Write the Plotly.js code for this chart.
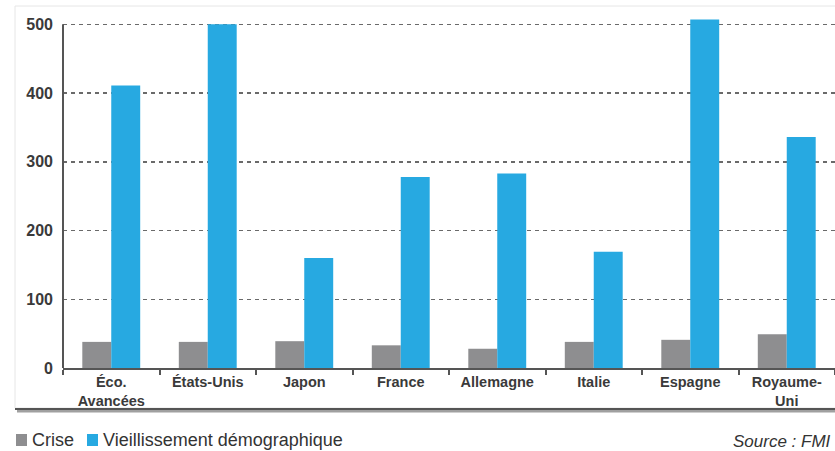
<!DOCTYPE html>
<html>
<head>
<meta charset="utf-8">
<script src="https://cdn.plot.ly/plotly-3.0.1.min.js"></script>
<style>html,body{margin:0;padding:0;background:#fff;}#chart{width:835px;height:451px;}</style>
</head>
<body>
<div id="chart"></div>
<script>
const categories = ["Éco.<br>Avancées", "États-Unis", "Japon", "France", "Allemagne", "Italie", "Espagne", "Royaume-<br>Uni"];
const crise = [38, 38, 39, 33, 28, 38, 41, 49];
const vieillissement = [411, 500, 160, 278, 283, 169, 507, 336];
const yTicks = [0, 100, 200, 300, 400, 500];
const seriesNames = ["Crise", "Vieillissement démographique"];
const seriesColors = ["#8e8e90", "#27a9e1"];
const sourceText = "Source : FMI";

const FONT = "Liberation Sans, Arial, sans-serif";

// plot area in pixels: x 63..835, y 14..368
const PX = x => (x - 63) / 772;
const PY = y => (368 - y) / 354;

const traces = [
  {type: "bar", name: seriesNames[0], x: categories, y: crise, marker: {color: seriesColors[0]}, showlegend: false},
  {type: "bar", name: seriesNames[1], x: categories, y: vieillissement, marker: {color: seriesColors[1]}, showlegend: false}
];

const legendShapes = [
  {type: "rect", xref: "paper", yref: "paper", x0: PX(16), x1: PX(27), y0: PY(446), y1: PY(434),
   fillcolor: seriesColors[0], line: {width: 0}},
  {type: "rect", xref: "paper", yref: "paper", x0: PX(87), x1: PX(98), y0: PY(446), y1: PY(434),
   fillcolor: seriesColors[1], line: {width: 0}}
];

const layout = {
  width: 835, height: 451,
  margin: {l: 63, r: 0, t: 14, b: 83, autoexpand: false},
  paper_bgcolor: "#ffffff", plot_bgcolor: "rgba(0,0,0,0)",
  barmode: "group", bargap: 0.4, bargroupgap: 0,
  font: {family: FONT, color: "#333333"},
  showlegend: false,
  xaxis: {type: "category", range: [-0.5, 7.5], showline: true, linecolor: "#555555", linewidth: 2,
          ticks: "outside", tickson: "boundaries", ticklen: 5, tickcolor: "#555555", tickwidth: 2,
          tickfont: {family: FONT, size: 14.5, color: "#3a3a3a", weight: "bold"},
          showgrid: false, zeroline: false, fixedrange: true, automargin: false},
  yaxis: {range: [0, 515], tickvals: yTicks, ticktext: yTicks.map(String),
          showgrid: true, gridcolor: "#6a6a6a", griddash: "4px,4px", gridwidth: 1.5,
          showline: false, zeroline: false, ticks: "", ticklabelstandoff: 9,
          tickfont: {family: FONT, size: 16, color: "#3a3a3a", weight: "bold"}, fixedrange: true, automargin: false},
  shapes: [
    {type: "rect", xref: "paper", yref: "paper", x0: PX(15), x1: PX(850), y0: PY(408), y1: PY(6),
     line: {color: "#e6e6e6", width: 1}, fillcolor: "rgba(0,0,0,0)", layer: "below"},
    {type: "line", xref: "paper", yref: "paper", x0: PX(17), x1: PX(835), y0: PY(411), y1: PY(411),
     line: {color: "#a0a0a0", width: 3}},
    {type: "line", xref: "paper", yref: "paper", x0: PX(15), x1: PX(835), y0: PY(409), y1: PY(409),
     line: {color: "#555555", width: 2}},
    {type: "line", xref: "paper", yref: "y", x0: 0, x1: 0, y0: -6, y1: 500,
     line: {color: "#555555", width: 2}}
  ].concat(legendShapes),
  annotations: [
    {xref: "paper", yref: "paper", x: PX(30), y: PY(440), xanchor: "left", yanchor: "middle",
     text: seriesNames[0], showarrow: false, font: {family: FONT, size: 18, color: "#333333"}},
    {xref: "paper", yref: "paper", x: PX(101), y: PY(440), xanchor: "left", yanchor: "middle",
     text: seriesNames[1], showarrow: false, font: {family: FONT, size: 18, color: "#333333"}},
    {xref: "paper", yref: "paper", x: PX(833), y: PY(441), xanchor: "right", yanchor: "middle",
     text: sourceText, showarrow: false, font: {family: FONT, size: 17, color: "#333333", style: "italic"}}
  ]
};

Plotly.newPlot("chart", traces, layout, {displayModeBar: false, staticPlot: true});
</script>
</body>
</html>
